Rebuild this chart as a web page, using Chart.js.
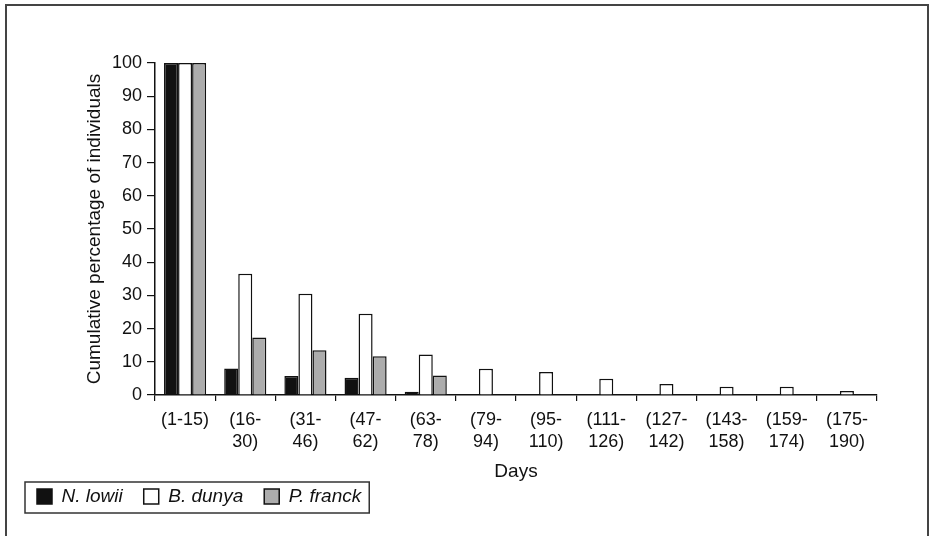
<!DOCTYPE html>
<html>
<head>
<meta charset="utf-8">
<script src="https://cdn.jsdelivr.net/npm/chart.js@4.4.1/dist/chart.umd.min.js"></script>
<style>
  body { margin: 0; background: #fff; }
  #wrap { position: relative; width: 933px; height: 536px; overflow: hidden; }
  #frame { position: absolute; left: 5px; top: 4px; width: 924px; height: 560px; border: 2px solid #444; box-sizing: border-box; pointer-events: none; }
</style>
</head>
<body>
<div id="wrap">
  <canvas id="chart" width="933" height="536"></canvas>
  <div id="frame"></div>
</div>
<script>
// Tage-Klassen (zweizeilige Beschriftung)
const dayLabels = [
  ['(1-15)'], ['(16-', '30)'], ['(31-', '46)'], ['(47-', '62)'],
  ['(63-', '78)'], ['(79-', '94)'], ['(95-', '110)'], ['(111-', '126)'],
  ['(127-', '142)'], ['(143-', '158)'], ['(159-', '174)'], ['(175-', '190)']
];
const nLowii  = [100, 8, 5.7, 5.2, 1, 0, 0, 0, 0, 0, 0, 0];
const bDunya  = [100, 36.5, 30.5, 24.5, 12.2, 7.9, 6.9, 4.9, 3.3, 2.5, 2.5, 1.2];
const pFranck = [100, 17.3, 13.5, 11.7, 5.9, 0, 0, 0, 0, 0, 0, 0];
const yTicks  = [0, 10, 20, 30, 40, 50, 60, 70, 80, 90, 100];

const FONT = "'Liberation Sans', Arial, sans-serif";
const INK = '#111';

// Rahmen um die Legende
const legendFrame = {
  id: 'legendFrame',
  afterDraw(chart) {
    const boxes = chart.legend && chart.legend.legendHitBoxes;
    if (!boxes || !boxes.length) return;
    const first = boxes[0], last = boxes[boxes.length - 1];
    const ctx = chart.ctx;
    ctx.save();
    ctx.strokeStyle = '#333';
    ctx.lineWidth = 1.5;
    ctx.strokeRect(first.left - 12, first.top - 5, last.left + last.width + 8 - (first.left - 12), first.height + 12);
    ctx.restore();
  }
};

new Chart(document.getElementById('chart'), {
  type: 'bar',
  data: {
    labels: dayLabels,
    datasets: [
      { label: 'N. lowii', data: nLowii, backgroundColor: INK, borderColor: INK, borderWidth: 1.5 },
      { label: 'B. dunya', data: bDunya, backgroundColor: '#fff', borderColor: INK, borderWidth: 1.5 },
      { label: 'P. franck', data: pFranck, backgroundColor: '#acacac', borderColor: INK, borderWidth: 1.5 }
    ]
  },
  options: {
    responsive: false,
    animation: false,
    layout: { padding: { left: 16, right: 56, top: 63, bottom: 20 } },
    datasets: { bar: { barPercentage: 1, categoryPercentage: 0.7 } },
    plugins: {
      tooltip: { enabled: false },
      legend: {
        position: 'bottom',
        align: 'start',
        labels: {
          boxWidth: 15,
          boxHeight: 15,
          padding: 21,
          color: INK,
          font: { family: FONT, size: 19, style: 'italic' }
        }
      }
    },
    scales: {
      x: {
        afterFit(scale) { scale.height = 71; },
        grid: { display: true, drawOnChartArea: false, drawTicks: true, tickLength: 6, color: INK, lineWidth: 1.2 },
        border: { display: true, color: INK, width: 1.5 },
        ticks: { color: INK, padding: 9, maxRotation: 0, autoSkip: false, font: { family: FONT, size: 18, lineHeight: 1.17 } },
        title: { display: true, text: 'Days', color: INK, padding: { top: 0, bottom: -17 }, font: { family: FONT, size: 19 } }
      },
      y: {
        min: 0,
        max: 100,
        afterFit(scale) { scale.width = 139; },
        afterBuildTicks(scale) { scale.ticks = yTicks.map(v => ({ value: v })); },
        grid: { display: true, drawOnChartArea: false, drawTicks: true, tickLength: 8, color: INK, lineWidth: 1.2 },
        border: { display: true, color: INK, width: 1.5 },
        ticks: { color: INK, padding: 5, font: { family: FONT, size: 18 } },
        title: { display: true, text: 'Cumulative percentage of individuals', color: INK, padding: { top: 67, bottom: 0 }, font: { family: FONT, size: 19 } }
      }
    }
  },
  plugins: [legendFrame]
});
</script>
</body>
</html>
